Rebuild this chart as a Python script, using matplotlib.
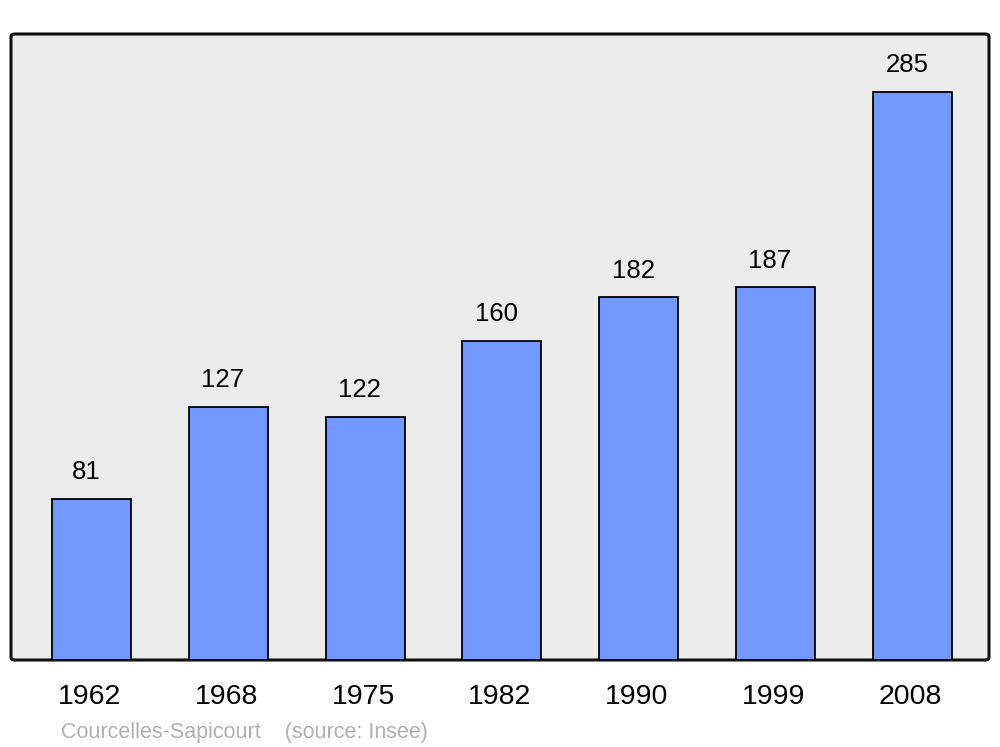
import matplotlib
matplotlib.use('Agg')
import matplotlib.pyplot as plt
import matplotlib.patches as mpatches
import matplotlib.transforms as mtransforms

# Population data (Insee)
years = ['1962', '1968', '1975', '1982', '1990', '1999', '2008']
population = [81, 127, 122, 160, 182, 187, 285]

plt.rcParams['font.family'] = ['Liberation Sans', 'DejaVu Sans']

BAR_C = '#7399ff'
BG_C = '#ececec'

fig = plt.figure(figsize=(10.0, 7.47), dpi=100)
ax = fig.add_axes([0.011, 1 - 660 / 747, 0.978, (660 - 34) / 747])
ax.set_facecolor('none')

x = list(range(len(years)))
ax.bar(x, population, width=0.578, color=BAR_C, edgecolor='black',
       linewidth=1.3, zorder=3)

ax.set_xlim(-0.588, 6.56)
ax.set_ylim(0, 314)

# rounded frame with grey fill
frame = mpatches.FancyBboxPatch(
    (0, 0), 1, 1, transform=ax.transAxes,
    boxstyle='round,pad=0,rounding_size=0.004',
    facecolor=BG_C, edgecolor='#111111', lw=2.2, zorder=0, clip_on=False)
ax.add_patch(frame)

for s in ax.spines.values():
    s.set_visible(False)
ax.set_yticks([])
ax.set_xticks(x)
ax.set_xticklabels(years, fontsize=20.5)
ax.tick_params(axis='x', length=0, pad=17)
shift = mtransforms.ScaledTranslation(-2 / 100, 0, fig.dpi_scale_trans)
for t in ax.get_xticklabels():
    t.set_transform(t.get_transform() + shift)

# value labels above bars
for xi, v in zip(x, population):
    ax.annotate(str(v), xy=(xi, v), xytext=(-4, 10.5), textcoords='offset points',
                ha='center', va='bottom', fontsize=18.5, color='black', zorder=4)

fig.text(0.061, 1 - 732.5 / 747, 'Courcelles-Sapicourt    (source: Insee)',
         ha='left', va='center', fontsize=15.5, color='#b0b0b0')

fig.savefig('out.png', dpi=100, facecolor='white')
